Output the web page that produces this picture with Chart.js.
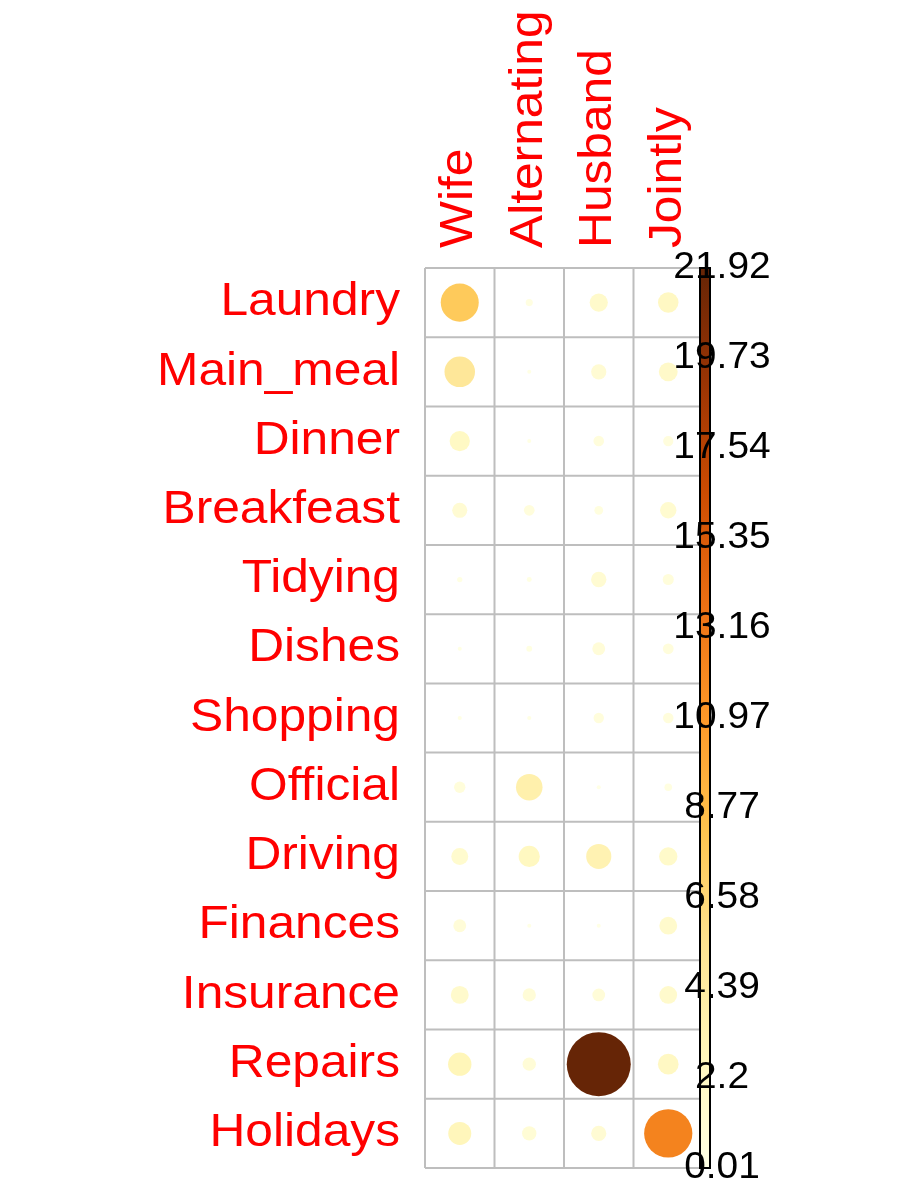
<!DOCTYPE html>
<html>
<head>
<meta charset="utf-8">
<script src="https://cdn.jsdelivr.net/npm/chart.js@4.4.0/dist/chart.umd.min.js"></script>
<style>
  html, body { margin: 0; background: #fff; }
  #wrap { width: 900px; height: 1200px; }
</style>
</head>
<body>
<div id="wrap"><canvas id="c"></canvas></div>
<script>
const rows = ["Laundry", "Main_meal", "Dinner", "Breakfeast", "Tidying", "Dishes", "Shopping",
    "Official", "Driving", "Finances", "Insurance", "Repairs", "Holidays"];
const cols = ["Wife", "Alternating", "Husband", "Jointly"];

// contribution (%) per cell, one array per column
const wife = [7.74, 4.98, 2.20, 1.22, 0.15, 0.06, 0.09, 0.69, 1.54, 0.89, 1.71, 2.92, 2.83];
const alternating = [0.27, 0.01, 0.07, 0.61, 0.13, 0.18, 0.09, 3.77, 2.40, 0.04, 0.94, 0.95, 1.10];
const husband = [1.78, 1.24, 0.60, 0.41, 1.27, 0.89, 0.58, 0.01, 3.37, 0.03, 0.87, 21.92, 1.23];
const jointly = [2.25, 1.90, 0.56, 1.44, 0.66, 0.62, 0.59, 0.31, 1.79, 1.70, 1.68, 2.28, 12.45];

const barTicks = ["0.01", "2.2", "4.39", "6.58", "8.77", "10.97", "13.16", "15.35", "17.54", "19.73", "21.92"];
const vMin = 0.01, vMax = 21.92;

const palette = ["#FFFFE5", "#FFF7BC", "#FEE391", "#FEC44F", "#FE9929", "#EC7014", "#CC4C02", "#993404", "#662506"];

function hexRgb(h) {
    return [1, 3, 5].map(i => parseInt(h.slice(i, i + 2), 16));
}
function colorFor(v) {
    const t = Math.max(0, Math.min(1, (v - vMin) / (vMax - vMin))) * (palette.length - 1);
    const i = Math.min(palette.length - 2, Math.floor(t));
    const f = t - i;
    const a = hexRgb(palette[i]), b = hexRgb(palette[i + 1]);
    const c = a.map((x, k) => Math.round(x + (b[k] - x) * f));
    return `rgb(${c[0]},${c[1]},${c[2]})`;
}

const columns = [wife, alternating, husband, jointly];
const points = [];
columns.forEach((vals, ci) => {
    vals.forEach((v, ri) => points.push({ x: ci + 0.5, y: ri + 0.5, v }));
});

const MAX_R = 32;

const decor = {
    id: "decor",
    beforeDatasetsDraw(chart) {
        const { ctx, chartArea: a, scales: { x, y } } = chart;
        ctx.save();
        ctx.strokeStyle = "#bebebe";
        ctx.lineWidth = 2;
        for (let i = 0; i <= cols.length; i++) {
            const px = x.getPixelForValue(i);
            ctx.beginPath(); ctx.moveTo(px, a.top); ctx.lineTo(px, a.bottom); ctx.stroke();
        }
        for (let j = 0; j <= rows.length; j++) {
            const py = y.getPixelForValue(j);
            ctx.beginPath(); ctx.moveTo(a.left, py); ctx.lineTo(a.right, py); ctx.stroke();
        }
        ctx.restore();
    },
    afterDatasetsDraw(chart) {
        const { ctx, chartArea: a, scales: { x, y } } = chart;
        ctx.save();
        ctx.fillStyle = "#ff0000";
        ctx.font = "46px Arial, 'Liberation Sans', sans-serif";
        ctx.textAlign = "right";
        ctx.textBaseline = "middle";
        rows.forEach((r, i) => {
            ctx.save();
            ctx.translate(a.left - 25, y.getPixelForValue(i + 0.5));
            ctx.scale(1.08, 1);
            ctx.fillText(r, 0, 0);
            ctx.restore();
        });
        cols.forEach((c, i) => {
            ctx.save();
            ctx.translate(x.getPixelForValue(i + 0.5), a.top - 20);
            ctx.rotate(-Math.PI / 2);
            ctx.scale(1.08, 1);
            ctx.textAlign = "left";
            ctx.fillText(c, 0, 0);
            ctx.restore();
        });

        // colour bar
        const bx = a.right - 3, bw = 10;
        const g = ctx.createLinearGradient(0, a.bottom, 0, a.top);
        palette.forEach((p, i) => g.addColorStop(i / (palette.length - 1), p));
        ctx.fillStyle = g;
        ctx.fillRect(bx, a.top, bw, a.bottom - a.top);
        ctx.strokeStyle = "#000";
        ctx.lineWidth = 2;
        ctx.strokeRect(bx, a.top, bw, a.bottom - a.top);
        ctx.fillStyle = "#000";
        ctx.font = "36px Arial, 'Liberation Sans', sans-serif";
        ctx.textAlign = "center";
        barTicks.forEach((t, i) => {
            const py = a.bottom - (a.bottom - a.top) * i / (barTicks.length - 1);
            ctx.save();
            ctx.translate(bx + 22, py);
            ctx.scale(1.08, 1);
            ctx.fillText(t, 0, 0);
            ctx.restore();
        });
        ctx.restore();
    }
};

new Chart(document.getElementById("c"), {
    type: "bubble",
    data: {
        datasets: [{
            data: points,
            backgroundColor: points.map(p => colorFor(p.v)),
            borderWidth: 0,
            radius: ctx => Math.max(2, MAX_R * Math.sqrt(ctx.raw.v / vMax))
        }]
    },
    options: {
        responsive: true,
        maintainAspectRatio: false,
        animation: false,
        layout: { padding: { left: 425, right: 197, top: 268, bottom: 32 } },
        plugins: { legend: { display: false }, tooltip: { enabled: false } },
        scales: {
            x: { type: "linear", min: 0, max: cols.length, display: false },
            y: { type: "linear", min: 0, max: rows.length, reverse: true, display: false }
        }
    },
    plugins: [decor]
});
</script>
</body>
</html>
